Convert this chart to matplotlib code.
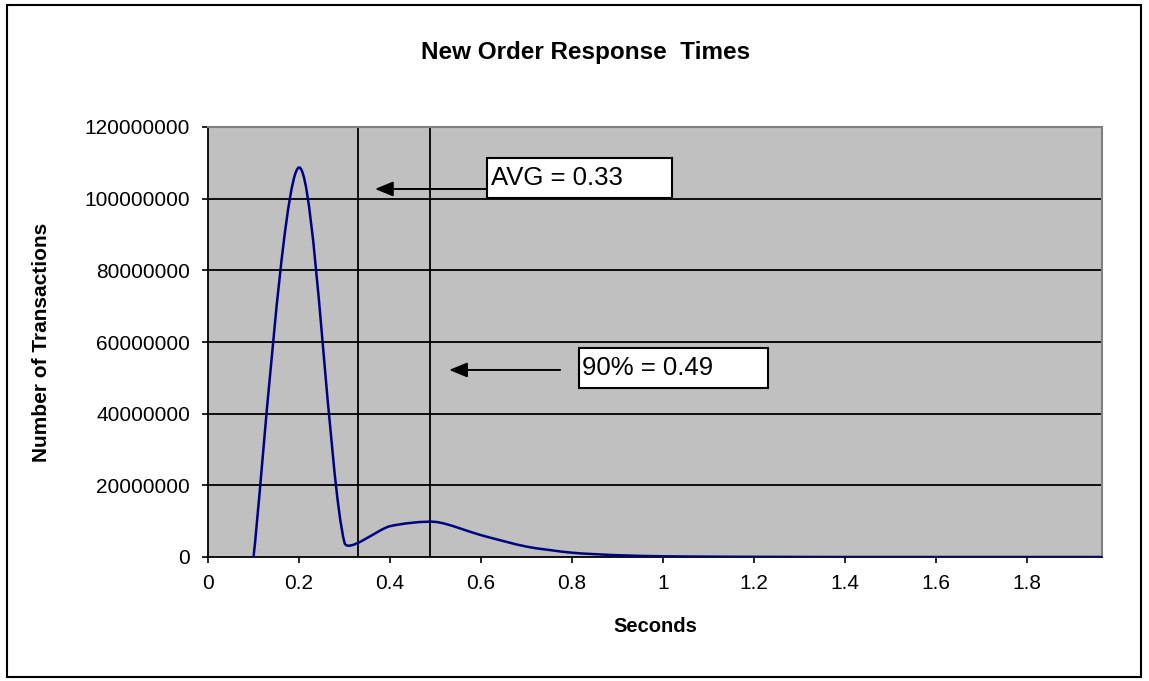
import numpy as np
import matplotlib
matplotlib.use("Agg")
import matplotlib.pyplot as plt
from matplotlib.path import Path
from matplotlib.patches import PathPatch, Rectangle

plt.rcParams['font.family'] = ['Liberation Sans', 'DejaVu Sans']

# ---- data ----
seconds = [0.1, 0.2, 0.3, 0.4, 0.5, 0.6, 0.7, 0.8, 0.9, 1.0,
           1.1, 1.2, 1.3, 1.4, 1.5, 1.6, 1.7, 1.8, 1.9, 2.0]
transactions = [0, 108.7e6, 4.0e6, 8.6e6, 9.8e6, 6.1e6, 2.9e6, 1.2e6, 0.5e6, 0.2e6,
                0.1e6, 0.05e6, 0.02e6, 0, 0, 0, 0, 0, 0, 0]
avg_value = 0.33
p90_value = 0.488
avg_label = "AVG = 0.33"
p90_label = "90% = 0.49"
x_ticks = [0, 0.2, 0.4, 0.6, 0.8, 1.0, 1.2, 1.4, 1.6, 1.8]
x_tick_labels = ["0", "0.2", "0.4", "0.6", "0.8", "1", "1.2", "1.4", "1.6", "1.8"]
y_ticks = [0, 20000000, 40000000, 60000000, 80000000, 100000000, 120000000]
y_tick_labels = [str(v) for v in y_ticks]

W, H = 1149, 681
fig = plt.figure(figsize=(W / 100, H / 100), dpi=100)
fig.patch.set_facecolor('white')

# chart area border
fig.add_artist(Rectangle((7 / W, 1 - 677 / H), (1141 - 7) / W, (677 - 5) / H,
                         transform=fig.transFigure, fill=False,
                         edgecolor='black', linewidth=1.5))

ax = fig.add_axes([208 / W, 1 - 557 / H, (1102 - 208) / W, (557 - 127) / H])
ax.set_facecolor('#C0C0C0')
ax.set_xlim(0, 1.965)
ax.set_ylim(0, 120000000)

ax.set_yticks(y_ticks)
ax.set_yticklabels(y_tick_labels)
ax.set_xticks(x_ticks)
ax.set_xticklabels(x_tick_labels)
ax.tick_params(axis='both', direction='out', length=4, width=1.2, colors='black',
               labelsize=15)
ax.tick_params(axis='y', pad=9)
ax.tick_params(axis='x', pad=8)

for y in y_ticks[1:-1]:
    ax.axhline(y, color='black', linewidth=1.3, zorder=1)
for v in (avg_value, p90_value):
    ax.axvline(v, color='black', linewidth=1.3, zorder=1)

for s in ('left', 'bottom'):
    ax.spines[s].set_color('black')
    ax.spines[s].set_linewidth(1.3)
for s in ('top', 'right'):
    ax.spines[s].set_color('#808080')
    ax.spines[s].set_linewidth(1.5)


def smooth_path(ax, xs, ys):
    pts = ax.transData.transform(np.column_stack([xs, ys]))
    n = len(pts)
    verts = [pts[0]]
    codes = [Path.MOVETO]
    for i in range(n - 1):
        p0 = pts[i - 1] if i > 0 else pts[i]
        p1 = pts[i]
        p2 = pts[i + 1]
        p3 = pts[i + 2] if i + 2 < n else pts[i + 1]
        d12 = np.hypot(*(p2 - p1))
        t1 = p2 - p0
        n1 = np.hypot(*t1)
        c1 = p1 + (t1 / n1) * min(n1 / 6, d12 / 4) if n1 > 0 else p1
        t2 = p3 - p1
        n2 = np.hypot(*t2)
        c2 = p2 - (t2 / n2) * min(n2 / 6, d12 / 4) if n2 > 0 else p2
        verts += [c1, c2, p2]
        codes += [Path.CURVE4] * 3
    verts = ax.transData.inverted().transform(np.array(verts))
    return Path(verts, codes)


ax.add_patch(PathPatch(smooth_path(ax, seconds, transactions), facecolor='none',
                       edgecolor='#000080', linewidth=1.8, zorder=3))

# annotations
def label_box(x0, x1, y0, y1, text):
    ax.add_patch(Rectangle((x0, y0), x1 - x0, y1 - y0, facecolor='white',
                           edgecolor='black', linewidth=1.5, zorder=4))
    ax.text(x0 + 0.008, (y0 + y1) / 2, text, fontsize=18.5, ha='left', va='center',
            zorder=5)

label_box(0.613, 1.020, 100.2e6, 111.4e6, avg_label)
label_box(0.815, 1.231, 47.2e6, 58.3e6, p90_label)

arrow_style = dict(arrowstyle='-|>,head_length=1.1,head_width=0.45', color='black',
                   linewidth=1.4, shrinkA=0, shrinkB=0)
ax.annotate('', xy=(0.367, 102.7e6), xytext=(0.613, 102.7e6), arrowprops=arrow_style,
            zorder=4)
ax.annotate('', xy=(0.530, 52.2e6), xytext=(0.774, 52.2e6), arrowprops=arrow_style,
            zorder=4)

fig.text(586 / W, 1 - 52 / H, "New Order Response  Times", fontsize=17.5,
         fontweight='bold', ha='center', va='center')
fig.text(655 / W, 1 - 627 / H, "Seconds", fontsize=14.5, fontweight='bold',
         ha='center', va='center')
fig.text(42 / W, 1 - 342 / H, "Number of Transactions", fontsize=15,
         fontweight='bold', ha='center', va='center', rotation=90)

fig.savefig("out.png", dpi=100, facecolor='white')
